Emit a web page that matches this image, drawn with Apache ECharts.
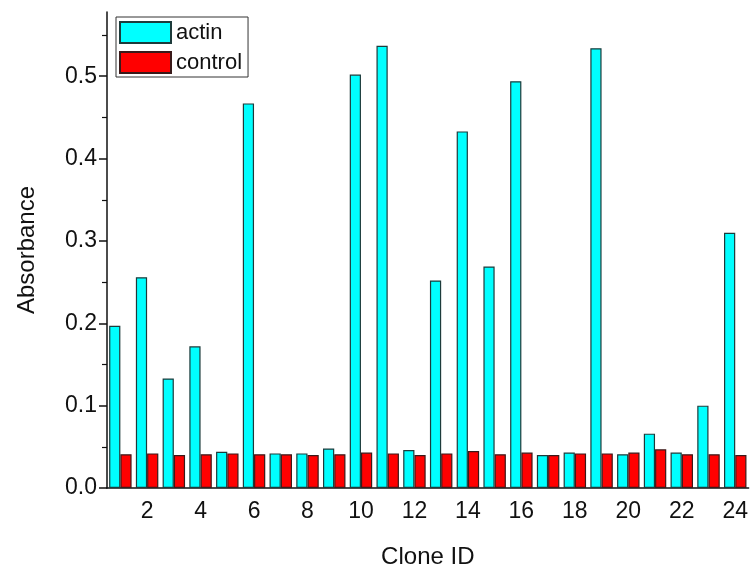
<!DOCTYPE html>
<html>
<head>
<meta charset="utf-8">
<script src="https://cdn.jsdelivr.net/npm/echarts@6/dist/echarts.min.js"></script>
<style>
html, body { margin: 0; padding: 0; background: #fff; }
#chart { width: 751px; height: 574px; }
</style>
</head>
<body>
<div id="chart"></div>
<script>
var clones = ['1', '2', '3', '4', '5', '6', '7', '8', '9', '10', '11', '12',
              '13', '14', '15', '16', '17', '18', '19', '20', '21', '22', '23', '24'];
var actin = [0.197, 0.256, 0.133, 0.172, 0.044, 0.467, 0.042, 0.042, 0.048, 0.502, 0.537, 0.046,
             0.252, 0.433, 0.269, 0.494, 0.040, 0.043, 0.534, 0.041, 0.066, 0.043, 0.100, 0.310];
var control = [0.041, 0.042, 0.040, 0.041, 0.042, 0.041, 0.041, 0.040, 0.041, 0.043, 0.042, 0.040,
               0.042, 0.045, 0.041, 0.043, 0.040, 0.042, 0.042, 0.043, 0.047, 0.041, 0.041, 0.040];
var yTicks = [0, 0.1, 0.2, 0.3, 0.4, 0.5];

var font = "'Liberation Sans', Arial, sans-serif";
// only even clone numbers get a label / tick
function evenOnly(index) { return index % 2 === 1; }

var option = {
    animation: false,
    backgroundColor: '#fff',
    textStyle: { fontFamily: font, color: '#111' },
    legend: {
        data: ['actin', 'control'],
        orient: 'vertical',
        left: 116,
        top: 17,
        padding: [4, 6, 3, 3],
        itemGap: 7,
        itemWidth: 51,
        itemHeight: 21,
        borderColor: '#333',
        borderWidth: 1,
        icon: 'rect',
        textStyle: { fontFamily: font, fontSize: 22, color: '#111' }
    },
    grid: {
        left: 107,
        right: 1,
        top: 12,
        bottom: 85,
        containLabel: false
    },
    xAxis: {
        type: 'category',
        data: clones,
        name: 'Clone ID',
        nameLocation: 'middle',
        nameGap: 57,
        nameTextStyle: { fontFamily: font, fontSize: 24, color: '#111' },
        axisLine: { lineStyle: { color: '#111', width: 1.5 } },
        axisTick: { alignWithLabel: true, interval: evenOnly, length: 9, lineStyle: { color: '#111', width: 1.5 } },
        axisLabel: { interval: evenOnly, fontFamily: font, fontSize: 23, color: '#111', margin: 12 }
    },
    yAxis: {
        type: 'value',
        min: 0,
        max: 0.578,
        interval: 0.1,
        name: 'Absorbance',
        nameLocation: 'middle',
        nameGap: 68,
        nameTextStyle: { fontFamily: font, fontSize: 24, color: '#111' },
        axisLine: { show: true, lineStyle: { color: '#111', width: 1.5 } },
        axisTick: { show: true, customValues: yTicks, length: 8, lineStyle: { color: '#111', width: 1.5 } },
        minorTick: { show: true, splitNumber: 2, length: 5, lineStyle: { color: '#111', width: 1.2 } },
        splitLine: { show: false },
        axisLabel: {
            customValues: yTicks,
            fontFamily: font, fontSize: 23, color: '#111', margin: 10,
            formatter: function (v) { return v.toFixed(1); }
        }
    },
    series: [
        {
            name: 'actin',
            type: 'bar',
            data: actin,
            barGap: '0%',
            barCategoryGap: '16%',
            itemStyle: { color: '#00ffff', borderColor: '#1d3b3b', borderWidth: 1.2 }
        },
        {
            name: 'control',
            type: 'bar',
            data: control,
            itemStyle: { color: '#ff0000', borderColor: '#3a1a1a', borderWidth: 1.2 }
        }
    ]
};

var chart = echarts.init(document.getElementById('chart'));
chart.setOption(option);
</script>
</body>
</html>
